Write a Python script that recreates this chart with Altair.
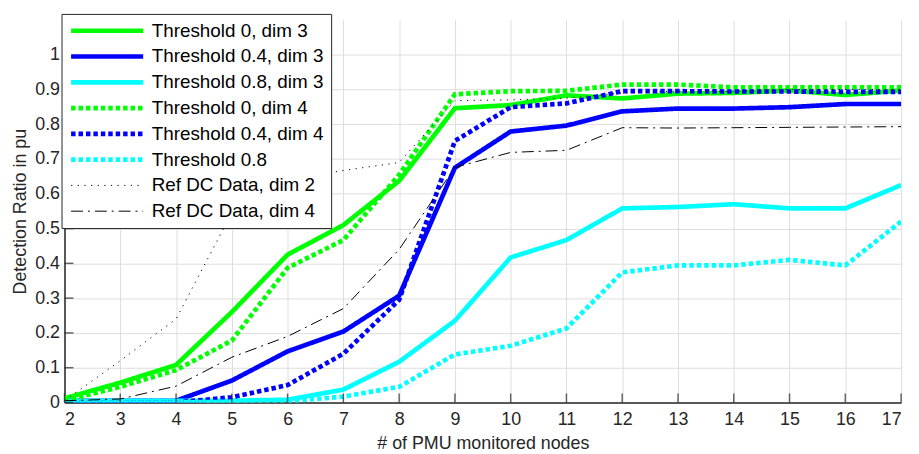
import altair as alt
import pandas as pd

nodes = list(range(2, 18))

series_names = [
    "Threshold 0, dim 3",
    "Threshold 0.4, dim 3",
    "Threshold 0.8, dim 3",
    "Threshold 0, dim 4",
    "Threshold 0.4, dim 4",
    "Threshold 0.8",
    "Ref DC Data, dim 2",
    "Ref DC Data, dim 4",
]

t0_dim3 = [0.012, 0.057, 0.108, 0.26, 0.425, 0.51, 0.637, 0.846, 0.855, 0.883, 0.874, 0.888, 0.89, 0.897, 0.884, 0.897]
t04_dim3 = [0.005, 0.005, 0.005, 0.063, 0.147, 0.204, 0.307, 0.675, 0.779, 0.796, 0.837, 0.845, 0.845, 0.849, 0.858, 0.858]
t08_dim3 = [0.005, 0.005, 0.005, 0.005, 0.008, 0.037, 0.117, 0.235, 0.417, 0.467, 0.558, 0.562, 0.57, 0.558, 0.558, 0.625]
t0_dim4 = [0.005, 0.045, 0.093, 0.178, 0.387, 0.467, 0.655, 0.886, 0.895, 0.896, 0.914, 0.914, 0.906, 0.906, 0.906, 0.906]
t04_dim4 = [0.0, 0.0, 0.0, 0.015, 0.05, 0.14, 0.295, 0.752, 0.849, 0.86, 0.895, 0.895, 0.894, 0.894, 0.893, 0.893]
t08_dim4 = [0.0, 0.0, 0.0, 0.002, 0.003, 0.017, 0.045, 0.138, 0.163, 0.213, 0.374, 0.394, 0.394, 0.41, 0.394, 0.52]
ref_dim2 = [0.005, 0.12, 0.24, 0.545, 0.64, 0.667, 0.69, 0.868, 0.87, 0.875, 0.89, 0.895, 0.895, 0.9, 0.9, 0.9]
ref_dim4 = [0.005, 0.01, 0.047, 0.13, 0.19, 0.27, 0.44, 0.676, 0.719, 0.725, 0.79, 0.789, 0.79, 0.791, 0.792, 0.793]

series_values = [t0_dim3, t04_dim3, t08_dim3, t0_dim4, t04_dim4, t08_dim4, ref_dim2, ref_dim4]

y_ticks = [round(i * 0.1, 1) for i in range(11)]

colors = ["#00ff00", "#0000ff", "#00ffff", "#00ff00", "#0000ff", "#00ffff", "#000000", "#000000"]
dashes = [[1, 0], [1, 0], [1, 0], [4.5, 3], [4.5, 3], [4.5, 3], [1.2, 5.5], [12, 5, 2, 5]]
widths = [4.7, 4.7, 4.7, 4.7, 4.7, 4.7, 1, 1]

rows = []
for name, vals in zip(series_names, series_values):
    for x, v in zip(nodes, vals):
        rows.append({"nodes": x, "ratio": v, "series": name})
df = pd.DataFrame(rows)

FONT = "Liberation Sans"
AX = "#262626"

x_scale = alt.Scale(domain=[2, 17], nice=False, zero=False)
y_scale = alt.Scale(domain=[0, 1.1], nice=False)
x_axis = alt.Axis(values=nodes, title="# of PMU monitored nodes", format="d", labelOverlap=False)
y_axis = alt.Axis(values=y_ticks, title="Detection Ratio in pu", format=".1~f", labelOverlap=False, tickCount=11)

lines = alt.Chart(df).mark_line(clip=True, strokeCap="butt").encode(
    x=alt.X("nodes:Q", scale=x_scale, axis=x_axis),
    y=alt.Y("ratio:Q", scale=y_scale, axis=y_axis),
    color=alt.Color("series:N", scale=alt.Scale(domain=series_names, range=colors), legend=alt.Legend(title=None)),
    strokeDash=alt.StrokeDash("series:N", scale=alt.Scale(domain=series_names, range=dashes), legend=alt.Legend(title=None)),
    strokeWidth=alt.StrokeWidth("series:N", scale=alt.Scale(type="ordinal", domain=series_names, range=widths), legend=alt.Legend(title=None)),
    order=alt.Order("nodes:Q"),
)

xt_df = pd.DataFrame({"nodes": nodes})
yt_df = pd.DataFrame({"ratio": y_ticks})

x_ticks = alt.Chart(xt_df).mark_tick(orient="vertical", size=9, thickness=1.5, color=AX, yOffset=-4.5).encode(
    x=alt.X("nodes:Q", scale=x_scale, axis=x_axis), y=alt.datum(0)
)
y_ticks_layer = alt.Chart(yt_df).mark_tick(orient="horizontal", size=9, thickness=1.5, color=AX, xOffset=4.5).encode(
    y=alt.Y("ratio:Q", scale=y_scale, axis=y_axis), x=alt.datum(2)
)

chart = alt.layer(lines, x_ticks, y_ticks_layer).properties(
    width=844,
    height=386,
    autosize=alt.AutoSizeParams(type="none"),
    padding={"left": 57, "top": 10, "right": 10, "bottom": 50},
).configure_view(
    stroke=None
).configure_axis(
    labelFont=FONT,
    titleFont=FONT,
    labelFontSize=18,
    titleFontSize=18,
    titleFontWeight="normal",
    labelColor=AX,
    titleColor=AX,
    domainColor=AX,
    domainWidth=1.5,
    tickSize=0,
    gridColor="#dedede",
    gridWidth=1,
    grid=True,
).configure_axisX(
    labelPadding=8,
    titlePadding=6,
).configure_axisY(
    labelPadding=5,
    titlePadding=5,
).configure_legend(
    orient="none",
    legendX=-3,
    legendY=-6,
    fillColor="white",
    strokeColor=AX,
    strokeWidth=1,
    padding=7,
    rowPadding=6,
    clipHeight=20,
    symbolType="stroke",
    symbolSize=5285,
    labelFont=FONT,
    labelFontSize=19,
    labelColor="black",
    labelOffset=6,
    cornerRadius=0,
    labelLimit=400,
)

chart.save("out.html", embed_options={"renderer": "svg", "actions": False})
